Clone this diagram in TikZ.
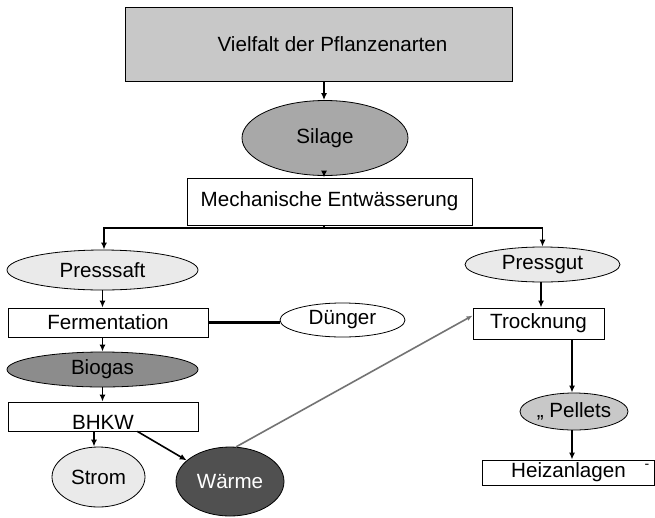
\documentclass[tikz,border=0pt]{standalone}
\usepackage{fontspec}
\setmainfont{Liberation Sans}
\usetikzlibrary{shapes.geometric,arrows.meta,calc}
\definecolor{topgray}{RGB}{200,200,200}
\definecolor{silgray}{RGB}{168,168,168}
\definecolor{biogray}{RGB}{140,140,140}
\definecolor{pelgray}{RGB}{200,200,200}
\definecolor{lightgray}{RGB}{234,234,234}
\definecolor{darkgray}{RGB}{80,80,80}
\definecolor{linegray}{RGB}{115,115,115}
\tikzset{
  box/.style={draw=black, line width=0.8pt, fill=white, rectangle, inner sep=0pt, font=\fontsize{20.6}{24}\selectfont},
  oval/.style={draw=black, line width=0.8pt, ellipse, inner sep=0pt, font=\fontsize{20.6}{24}\selectfont},
  arr/.style={line width=1.6pt, -{Latex[length=7pt,width=6pt]}},
  plain/.style={line width=1.6pt},
  thick line/.style={line width=2.6pt},
  grayarr/.style={draw=linegray, line width=1.6pt, -{Latex[length=6pt,width=5pt]}}
}
\begin{document}
\begin{tikzpicture}[x=1pt,y=-1pt]
\useasboundingbox (0,0) rectangle (655,517);
\fill[white] (0,0) rectangle (655,517);

\node[box, fill=topgray, minimum width=387pt, minimum height=74pt] (top) at (318.5,44) {\hspace{28pt}Vielfalt der Pflanzenarten};
\node[oval, fill=silgray, minimum width=166pt, minimum height=75pt] (silage) at (325,138) {Silage};
\node[box, minimum width=285pt, minimum height=47pt] (mech) at (329.5,201.5) {Mechanische Entwässerung};
\coordinate (split) at (324,228);

\node[oval, fill=lightgray, minimum width=191pt, minimum height=40pt] (saft) at (102.5,270) {Presssaft};
\node[oval, fill=lightgray, minimum width=155pt, minimum height=35pt] (gut) at (542.5,264.5) {Pressgut};

\node[box, minimum width=200pt, minimum height=29pt] (ferm) at (108,322.5) {Fermentation};
\node[oval, fill=white, minimum width=125pt, minimum height=34pt] (dung) at (342.5,320) {Dünger};
\node[oval, fill=biogray, minimum width=191pt, minimum height=35pt] (bio) at (102.5,369.5) {Biogas};
\node[box, minimum width=190pt, minimum height=29pt] (bhkw) at (103,416.5) {\raisebox{-6pt}[\height][\depth]{BHKW}};
\node[oval, fill=lightgray, minimum width=93pt, minimum height=60pt] (strom) at (98.5,477) {Strom};
\node[oval, fill=darkgray, text=white, minimum width=108pt, minimum height=69pt] (waerme) at (230,481.5) {Wärme};

\node[box, minimum width=131pt, minimum height=31pt] (trock) at (538.5,323.5) {Trocknung};
\node[oval, fill=pelgray, minimum width=108pt, minimum height=37pt] (pel) at (574,411.5) {„ Pellets};
\node[box, minimum width=172pt, minimum height=25pt] (heiz) at (568.5,472.5) {Heizanlagen};
\node[font=\fontsize{14}{16}\selectfont, inner sep=0pt] (dash) at (647,466) {-};

% connectors
\draw[arr] (top.south -| 324,0) -- (silage.north -| 324,0);
\draw[arr] (silage.south -| 324,0) -- (mech.north -| 324,0);
\draw[plain] (mech.south -| split) -- (split);
\draw[arr] (split) -| (saft.north -| 104,0);
\draw[arr] (split) -| (gut.north);

\draw[arr] (saft.south) -- (saft.south |- ferm.north);
\draw[thick line] (ferm.east) -- (ferm.east -| dung.west);
\draw[arr] (ferm.south -| bio) -- (bio.north);
\draw[arr] (bio.south) -- (bio.south |- bhkw.north);
\draw[arr] (bhkw.south -| 94,0) -- (strom.north -| 94,0);
\draw[arr] ($(bhkw.south west)!0.68!(bhkw.south east)$) -- (waerme.154);
\draw[grayarr] (waerme.80) -- ($(trock.north west)!0.25!(trock.south west)$);

\draw[arr] (gut.south -| 541,0) -- (trock.north -| 541,0);
\draw[arr] (trock.south -| 572,0) -- (pel.north -| 572,0);
\draw[arr] (pel.south -| 572,0) -- (heiz.north -| 572,0);
\end{tikzpicture}
\end{document}
